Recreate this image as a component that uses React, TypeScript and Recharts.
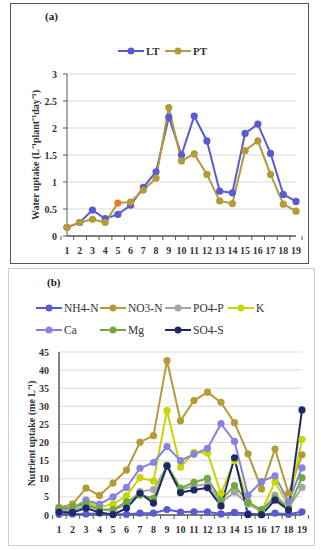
import { LineChart, Line, XAxis, YAxis, CartesianGrid, Legend } from 'recharts'

const days = ['1', '2', '3', '4', '5', '6', '7', '8', '9', '10', '11', '12', '13', '14', '15', '16', '17', '18', '19']

// (a) water uptake, L plant-1 day-1
const ltUptake = [0.16, 0.25, 0.48, 0.32, 0.4, 0.57, 0.9, 1.19, 2.2, 1.5, 2.22, 1.76, 0.83, 0.8, 1.9, 2.07, 1.53, 0.77, 0.64]
const ptUptake = [0.16, 0.25, 0.31, 0.25, 0.61, 0.63, 0.85, 1.07, 2.38, 1.39, 1.52, 1.14, 0.65, 0.6, 1.58, 1.76, 1.14, 0.59, 0.46]
const waterTicks = [0, 0.5, 1, 1.5, 2, 2.5, 3]

// (b) nutrient uptake, me L-1
const nh4n = [0.2, 0.3, 0.3, 0.5, 0.2, 0.2, 0.5, 0.5, 1.5, 0.8, 0.9, 0.9, 0.3, 0.7, 0.4, 0.1, 0.5, 0.2, 0.9]
const no3n = [2.1, 3, 7.4, 5.4, 8.8, 12.4, 20.1, 21.9, 42.6, 26, 31.6, 33.9, 31.1, 25.5, 16.9, 7.2, 18.2, 6, 16.6]
const po4p = [1, 1.3, 2.5, 1.5, 1.2, 3, 6.5, 7, 13.5, 7, 8, 8.5, 3.5, 6.3, 3, 1, 5.5, 2, 7.6]
const potassium = [1.6, 2.1, 3.7, 2.2, 3, 5.3, 10.3, 9.4, 28.8, 13.2, 17.3, 17.1, 6, 15, 3.7, 1, 9.2, 2.5, 20.9]
const calcium = [1.6, 1.8, 4.1, 3, 5, 7.6, 12.9, 14.5, 18.9, 15, 16.8, 18.4, 25.2, 20.3, 5.5, 9.2, 10.8, 3.7, 13]
const magnesium = [1.8, 2.2, 3, 1.6, 1.5, 3.6, 5.5, 4.6, 13.8, 7.4, 9, 10.1, 4.1, 8.1, 3.5, 1.5, 4.6, 2, 10.3]
const so4s = [0.8, 0.7, 1.9, 0.7, 0.1, 1.9, 6, 3.3, 13.5, 6.2, 6.9, 7.5, 2.5, 15.8, 0.1, 0.1, 4.1, 1.4, 29]
const nutrientTicks = [0, 5, 10, 15, 20, 25, 30, 35, 40, 45]

const FONT = '"Liberation Serif", "Times New Roman", serif'
const AXIS = '#595959'
const GRID = '#D9D9D9'
const LABEL = '#333333'

const waterSeries = [
  { key: 'LT', color: '#5A5AD2', values: ltUptake },
  { key: 'PT', color: '#B39B39', values: ptUptake },
]

const nutrientSeries = [
  { key: 'NH4-N', color: '#5A5AD2', values: nh4n },
  { key: 'NO3-N', color: '#B39B39', values: no3n },
  { key: 'PO4-P', color: '#A6A6A6', values: po4p },
  { key: 'K', color: '#C5D600', values: potassium },
  { key: 'Ca', color: '#8484E0', values: calcium },
  { key: 'Mg', color: '#72A842', values: magnesium },
  { key: 'SO4-S', color: '#1E2A68', values: so4s },
]

// Excel style category axis: tick marks sit between the categories
function BandTick(props: any) {
  const { x, y, payload, index, bw, count } = props
  return (
    <g>
      <line x1={x - bw / 2} x2={x - bw / 2} y1={y} y2={y + 4} stroke={AXIS} />
      {index === count - 1 && <line x1={x + bw / 2} x2={x + bw / 2} y1={y} y2={y + 4} stroke={AXIS} />}
      <text x={x} y={y} dy={18} textAnchor="middle" fontSize={10} fontWeight="bold" fill={LABEL} fontFamily={FONT}>
        {payload.value}
      </text>
    </g>
  )
}

function YTitle(props: any) {
  const { viewBox, text, dx } = props
  const cx = viewBox.x + dx
  const cy = viewBox.y + viewBox.height / 2
  return (
    <text
      x={cx}
      y={cy}
      transform={`rotate(-90, ${cx}, ${cy})`}
      textAnchor="middle"
      dominantBaseline="central"
      fontSize={10}
      fontWeight="bold"
      fill={LABEL}
      fontFamily={FONT}
    >
      {text}
    </text>
  )
}

function LegendBox({ items, cols, rowH, width, bold }: any) {
  const rows = Math.ceil(items.length / cols.length)
  return (
    <svg width={width} height={rows * rowH} style={{ display: 'block' }}>
      {items.map((s: any, i: number) => {
        const x = cols[i % cols.length]
        const y = Math.floor(i / cols.length) * rowH + rowH / 2
        return (
          <g key={s.key}>
            <line x1={x} x2={x + 26} y1={y} y2={y} stroke={s.color} strokeWidth={2} />
            <circle cx={x + 13} cy={y} r={3.5} fill={s.color} />
            <text
              x={x + 28}
              y={y}
              dominantBaseline="central"
              fontSize={bold ? 11 : 11.5}
              fontWeight={bold ? 'bold' : 'normal'}
              fill={LABEL}
              fontFamily={FONT}
            >
              {s.key}
            </text>
          </g>
        )
      })}
    </svg>
  )
}

function WaterChart() {
  const data = days.map((d, i) => ({ day: d, LT: ltUptake[i], PT: ptUptake[i] }))
  const bw = 229 / days.length

  // the 5th PT point is drawn orange in the original figure
  const ptDot = (p: any) => (
    <circle key={`pt-${p.index}`} cx={p.cx} cy={p.cy} r={3.6} fill={p.index === 4 ? '#F0782D' : '#B39B39'} />
  )

  return (
    <LineChart width={321} height={262} data={data} margin={{ top: 74, right: 25, bottom: 6, left: 0 }}>
      <CartesianGrid vertical={false} stroke={GRID} />
      <XAxis
        dataKey="day"
        height={20}
        interval={0}
        tickSize={0}
        tickMargin={0}
        stroke={AXIS}
        strokeWidth={1.5}
        tick={(p: any) => <BandTick {...p} bw={bw} count={days.length} />}
      />
      <YAxis
        width={67}
        domain={[0, 3]}
        ticks={waterTicks}
        interval={0}
        tickSize={4}
        tickMargin={6}
        stroke={AXIS}
        tick={{ fontSize: 10, fontWeight: 'bold', fill: LABEL, fontFamily: FONT }}
        label={<YTitle text="Water uptake (L⁻¹plant⁻¹day⁻¹)" dx={35} />}
      />
      <Legend
        layout="vertical"
        align="center"
        verticalAlign="middle"
        wrapperStyle={{ top: 42, left: 112 }}
        content={() => <LegendBox items={waterSeries} cols={[6, 53]} rowH={18} width={110} bold />}
      />
      <Line dataKey="LT" stroke="#5A5AD2" strokeWidth={2} dot={{ r: 3.6, fill: '#5A5AD2', stroke: 'none' }} isAnimationActive={false} />
      <Line dataKey="PT" stroke="#B39B39" strokeWidth={2} dot={ptDot} isAnimationActive={false} />
    </LineChart>
  )
}

function NutrientChart() {
  const data = days.map((d, i) => {
    const row: any = { day: d }
    nutrientSeries.forEach(s => {
      row[s.key] = s.values[i]
    })
    return row
  })
  const bw = 243 / days.length

  return (
    <LineChart width={321} height={280} data={data} margin={{ top: 85, right: 19, bottom: 12, left: 0 }}>
      <CartesianGrid vertical={false} stroke={GRID} />
      <XAxis
        dataKey="day"
        height={20}
        interval={0}
        tickSize={0}
        tickMargin={0}
        stroke={AXIS}
        strokeWidth={1.5}
        tick={(p: any) => <BandTick {...p} bw={bw} count={days.length} />}
      />
      <YAxis
        width={59}
        domain={[0, 45]}
        ticks={nutrientTicks}
        interval={0}
        tickLine={false}
        tickSize={0}
        tickMargin={10}
        stroke={AXIS}
        strokeWidth={1.5}
        tick={{ fontSize: 10, fontWeight: 'bold', fill: LABEL, fontFamily: FONT }}
        label={<YTitle text="Nutrient uptake (me L⁻¹)" dx={31} />}
      />
      <Legend
        layout="vertical"
        align="center"
        verticalAlign="middle"
        wrapperStyle={{ top: 30, left: 30 }}
        content={() => <LegendBox items={nutrientSeries} cols={[6, 70, 135, 198]} rowH={22} width={280} />}
      />
      {nutrientSeries.map(s => (
        <Line
          key={s.key}
          dataKey={s.key}
          stroke={s.color}
          strokeWidth={2}
          dot={{ r: 3.6, fill: s.color, stroke: 'none' }}
          isAnimationActive={false}
        />
      ))}
    </LineChart>
  )
}

export default function App() {
  const tag = { position: 'absolute' as const, fontFamily: FONT, fontWeight: 'bold' as const, fontSize: 11, color: '#222' }
  return (
    <div style={{ position: 'absolute', left: 0, top: 0, width: 321, height: 550, background: '#fff' }}>
      <div style={{ position: 'absolute', left: 10, top: 3, width: 299, height: 261, border: '1px solid #555', boxSizing: 'border-box' }} />
      <div style={{ position: 'absolute', left: 8, top: 268, width: 307, height: 278, border: '1px solid #D0D0D0', boxSizing: 'border-box' }} />
      <div style={{ position: 'absolute', left: 0, top: 0 }}>
        <WaterChart />
      </div>
      <div style={{ position: 'absolute', left: 0, top: 267 }}>
        <NutrientChart />
      </div>
      <div style={{ ...tag, left: 45, top: 10 }}>(a)</div>
      <div style={{ ...tag, left: 47, top: 276 }}>(b)</div>
    </div>
  )
}
